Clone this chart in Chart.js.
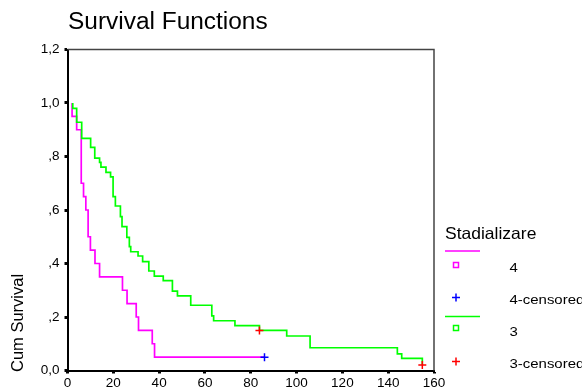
<!DOCTYPE html>
<html>
<head>
<meta charset="utf-8">
<script src="https://cdn.jsdelivr.net/npm/chart.js@4.4.0/dist/chart.umd.min.js"></script>
<style>
  html, body { margin: 0; padding: 0; background: #fff; }
  #wrap { width: 582px; height: 389px; }
</style>
</head>
<body>
<div id="wrap"><canvas id="survChart" width="582" height="389"></canvas></div>
<script>
// --- Data ---
// Stadializare 4: event times (months) and cumulative survival after each step
const stage4Time = [2, 2, 4, 6, 7, 8, 9, 10, 12, 14, 24, 26, 30, 31, 37, 38, 86];
const stage4Surv = [1.0, 0.95, 0.90, 0.70, 0.65, 0.60, 0.50, 0.45, 0.40, 0.35, 0.30, 0.25, 0.20, 0.15, 0.10, 0.05, 0.05];
// Stadializare 3
const stage3Time = [2.3, 2.3, 4, 6.2, 10.1, 11.9, 14, 14.6, 16.8, 18.8, 19.9, 20.9, 23.1, 23.8, 25.9, 27, 27.6,
  30.8, 32.8, 35.5, 37.9, 41.8, 45.8, 48, 53.8, 63, 63.8, 73.1, 83.8, 95.7, 105.9, 144, 145.9, 154.9];
const stage3Surv = [1.0, 0.98, 0.928, 0.868, 0.834, 0.794, 0.778, 0.760, 0.741, 0.724, 0.650, 0.615, 0.575, 0.538, 0.498, 0.463, 0.444,
  0.428, 0.407, 0.372, 0.353, 0.336, 0.297, 0.279, 0.244, 0.204, 0.186, 0.168, 0.150, 0.129, 0.085, 0.062, 0.045, 0.021];
// Censored observations
const censor4Time = [86];
const censor4Surv = [0.05];
const censor3Time = [83.8, 154.9];
const censor3Surv = [0.150, 0.021];

// Axis ticks
const xTicks = [0, 20, 40, 60, 80, 100, 120, 140, 160];
const yTicks = [0, 0.2, 0.4, 0.6, 0.8, 1.0, 1.2];

const legendTitle = 'Stadializare';
const legendLabels = ['4', '4-censored', '3', '3-censored'];

const FONT = '"Liberation Sans", Arial, sans-serif';
const MAGENTA = '#ff00ff';
const GREEN = '#00ff00';
const BLUE = '#0000ff';
const RED = '#ff0000';

function toPoints(xs, ys) {
    return xs.map((x, i) => ({ x: x, y: ys[i] }));
}

// SPSS style decimal comma: 1,2  ,8  0,0
function fmtTick(v) {
    const r = Math.round(v * 10) / 10;
    if (r === 0) return '0,0';
    if (r >= 1) return r.toFixed(1).replace('.', ',');
    return ',' + Math.round(r * 10);
}

// text a little wider than Arial, like the original
function wideText(ctx, text, x, y, sx) {
    ctx.save();
    ctx.translate(x, y);
    ctx.scale(sx, 1);
    ctx.fillText(text, 0, 0);
    ctx.restore();
}

// Title, y title, frame and legend drawn on the canvas
const decorPlugin = {
    id: 'decor',
    afterDraw(chart) {
        const ctx = chart.ctx;
        const a = chart.chartArea;
        ctx.save();

        // top / right frame
        ctx.strokeStyle = '#444';
        ctx.lineWidth = 1.5;
        ctx.beginPath();
        ctx.moveTo(a.left, a.top);
        ctx.lineTo(a.right, a.top);
        ctx.lineTo(a.right, a.bottom);
        ctx.stroke();

        // title
        ctx.fillStyle = '#000';
        ctx.font = '23.5px ' + FONT;
        ctx.textAlign = 'left';
        ctx.textBaseline = 'alphabetic';
        wideText(ctx, 'Survival Functions', 68, 28.5, 1.04);

        // y axis title
        ctx.save();
        ctx.translate(22.5, 372);
        ctx.rotate(-Math.PI / 2);
        ctx.font = '16.5px ' + FONT;
        ctx.fillText('Cum Survival', 0, 0);
        ctx.restore();

        // legend
        ctx.font = '16.5px ' + FONT;
        wideText(ctx, legendTitle, 445, 238.5, 1.06);
        ctx.font = '13px ' + FONT;
        const textX = 509.5;
        const mx = 456;
        ctx.lineWidth = 1.5;

        ctx.strokeStyle = MAGENTA;
        ctx.beginPath(); ctx.moveTo(445, 251); ctx.lineTo(480, 251); ctx.stroke();
        ctx.strokeRect(mx - 2.5, 265 - 2.5, 5, 5);
        wideText(ctx, legendLabels[0], textX, 272, 1.15);

        ctx.strokeStyle = BLUE;
        ctx.beginPath();
        ctx.moveTo(mx - 4, 297.5); ctx.lineTo(mx + 4, 297.5);
        ctx.moveTo(mx, 293.5); ctx.lineTo(mx, 301.5);
        ctx.stroke();
        wideText(ctx, legendLabels[1], textX, 303.5, 1.15);

        ctx.strokeStyle = GREEN;
        ctx.beginPath(); ctx.moveTo(445, 316.5); ctx.lineTo(480, 316.5); ctx.stroke();
        ctx.strokeRect(mx - 2.5, 328 - 2.5, 5, 5);
        wideText(ctx, legendLabels[2], textX, 335.5, 1.15);

        ctx.strokeStyle = RED;
        ctx.beginPath();
        ctx.moveTo(mx - 4, 361.5); ctx.lineTo(mx + 4, 361.5);
        ctx.moveTo(mx, 357.5); ctx.lineTo(mx, 365.5);
        ctx.stroke();
        wideText(ctx, legendLabels[3], textX, 367.5, 1.15);

        ctx.restore();
    }
};

const ctx = document.getElementById('survChart').getContext('2d');
const chart = new Chart(ctx, {
    type: 'line',
    data: {
        datasets: [{
            label: legendLabels[1],
            data: toPoints(censor4Time, censor4Surv),
            showLine: false,
            pointStyle: 'cross',
            pointRadius: 4,
            borderColor: BLUE,
            borderWidth: 1.5
        }, {
            label: legendLabels[3],
            data: toPoints(censor3Time, censor3Surv),
            showLine: false,
            pointStyle: 'cross',
            pointRadius: 4,
            borderColor: RED,
            borderWidth: 1.5
        }, {
            label: legendLabels[2],
            data: toPoints(stage3Time, stage3Surv),
            stepped: 'before',
            borderColor: GREEN,
            borderWidth: 1.7,
            pointRadius: 0,
            fill: false
        }, {
            label: legendLabels[0],
            data: toPoints(stage4Time, stage4Surv),
            stepped: 'before',
            borderColor: MAGENTA,
            borderWidth: 1.7,
            pointRadius: 0,
            fill: false
        }]
    },
    options: {
        responsive: false,
        animation: false,
        layout: { padding: { top: 49.5, right: 148, left: 0, bottom: 0 } },
        scales: {
            x: {
                type: 'linear',
                min: xTicks[0],
                max: xTicks[xTicks.length - 1],
                afterBuildTicks: s => { s.ticks = xTicks.map(v => ({ value: v })); },
                afterFit: s => { s.height = 18.5; },
                border: { color: '#000', width: 2 },
                grid: { drawOnChartArea: false, drawTicks: true, tickLength: 3, tickWidth: 3, tickColor: '#000' },
                ticks: { color: '#000', font: { family: FONT, size: 13.5 }, padding: 2, maxRotation: 0 }
            },
            y: {
                type: 'linear',
                min: yTicks[0],
                max: yTicks[yTicks.length - 1],
                afterBuildTicks: s => { s.ticks = yTicks.map(v => ({ value: v })); },
                afterFit: s => { s.width = 67.5; },
                border: { color: '#000', width: 2 },
                grid: { drawOnChartArea: false, drawTicks: true, tickLength: 3, tickWidth: 3, tickColor: '#000' },
                ticks: { color: '#000', font: { family: FONT, size: 13.5 }, padding: 5, callback: fmtTick }
            }
        },
        plugins: {
            legend: { display: false },
            tooltip: { enabled: false },
            title: { display: false }
        }
    },
    plugins: [decorPlugin]
});
</script>
</body>
</html>
